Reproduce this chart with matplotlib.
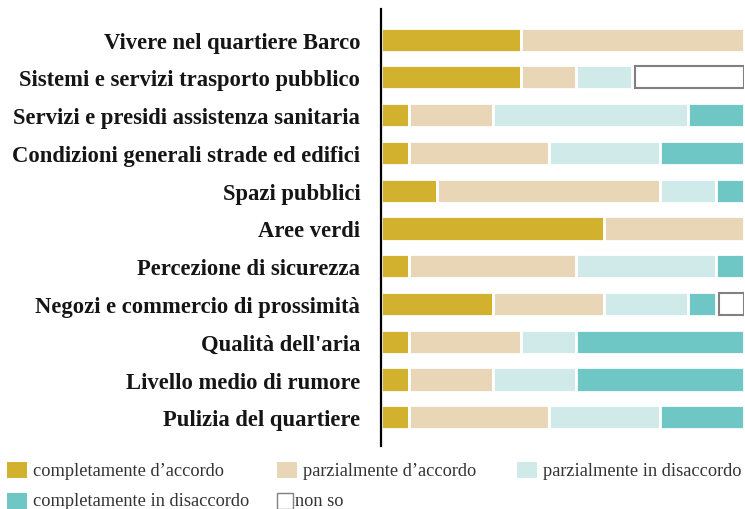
import matplotlib.pyplot as plt
from matplotlib.patches import Rectangle

# survey answers (number of respondents per answer, 13 in total)
labels = [
    "Vivere nel quartiere Barco",
    "Sistemi e servizi trasporto pubblico",
    "Servizi e presidi assistenza sanitaria",
    "Condizioni generali strade ed edifici",
    "Spazi pubblici",
    "Aree verdi",
    "Percezione di sicurezza",
    "Negozi e commercio di prossimità",
    "Qualità dell'aria",
    "Livello medio di rumore",
    "Pulizia del quartiere",
]
compl_accordo = [5, 5, 1, 1, 2, 8, 1, 4, 1, 1, 1]
parz_accordo = [8, 2, 3, 5, 8, 5, 6, 4, 4, 3, 5]
parz_disaccordo = [0, 2, 7, 4, 2, 0, 5, 3, 2, 3, 4]
compl_disaccordo = [0, 0, 2, 3, 1, 0, 1, 1, 6, 6, 3]
non_so = [0, 4, 0, 0, 0, 0, 0, 1, 0, 0, 0]

series = [
    ("completamente d’accordo", compl_accordo, "#D1B12E", "white"),
    ("parzialmente d’accordo", parz_accordo, "#E8D6B6", "white"),
    ("parzialmente in disaccordo", parz_disaccordo, "#D0EAEA", "white"),
    ("completamente in disaccordo", compl_disaccordo, "#6EC7C5", "white"),
    ("non so", non_so, "white", "#808080"),
]

fig = plt.figure(figsize=(7.45, 5.10), dpi=100)
ax = fig.add_axes([381 / 745, 1 - 447 / 510, 363 / 745, 437 / 510])

y = list(range(len(labels)))
left = [0] * len(labels)
for name, vals, col, edge in series:
    for i, v in enumerate(vals):
        if v == 0:
            continue
        if edge == "white":
            ax.barh(y[i], v, left=left[i], height=0.64, color=col,
                    edgecolor="white", linewidth=2.0)
        else:
            # hollow box for "non so"
            ax.barh(y[i], v - 0.1, left=left[i] + 0.1, height=0.58, color=col,
                    edgecolor=edge, linewidth=1.5)
    left = [a + b for a, b in zip(left, vals)]

ax.set_xlim(0, 13)
ax.set_ylim(len(labels) - 1 + 0.76, -0.81)
ax.set_yticks(y)
ax.set_yticklabels(labels, family="Liberation Serif", fontweight="bold",
                   fontsize=16.3, color="#151515")
ax.tick_params(axis="y", length=0, pad=15)
ax.set_xticks([])
for s in ["top", "right", "bottom"]:
    ax.spines[s].set_visible(False)
ax.spines["left"].set_linewidth(1.6)
ax.spines["left"].set_color("black")
ax.spines["left"].set_zorder(5)

# legend in two rows under the chart
W, H = 745, 510
leg_pos = [(7, 471), (277, 471), (517, 471), (7, 502), (277, 502)]
for (name, vals, col, edge), (px, py) in zip(series, leg_pos):
    if edge == "white":
        fig.patches.append(Rectangle((px / W, 1 - (py + 8) / H), 20 / W, 16 / H,
                                     transform=fig.transFigure, facecolor=col,
                                     edgecolor="none"))
        tx = px + 26
    else:
        fig.patches.append(Rectangle((px / W, 1 - (py + 8) / H), 16 / W, 16 / H,
                                     transform=fig.transFigure, facecolor=col,
                                     edgecolor=edge, linewidth=1.0))
        tx = px + 18
    fig.text(tx / W, 1 - py / H, name, family="Liberation Serif",
             fontsize=13.2, color="#333333", va="center", ha="left")

fig.savefig("out.png", dpi=100)
